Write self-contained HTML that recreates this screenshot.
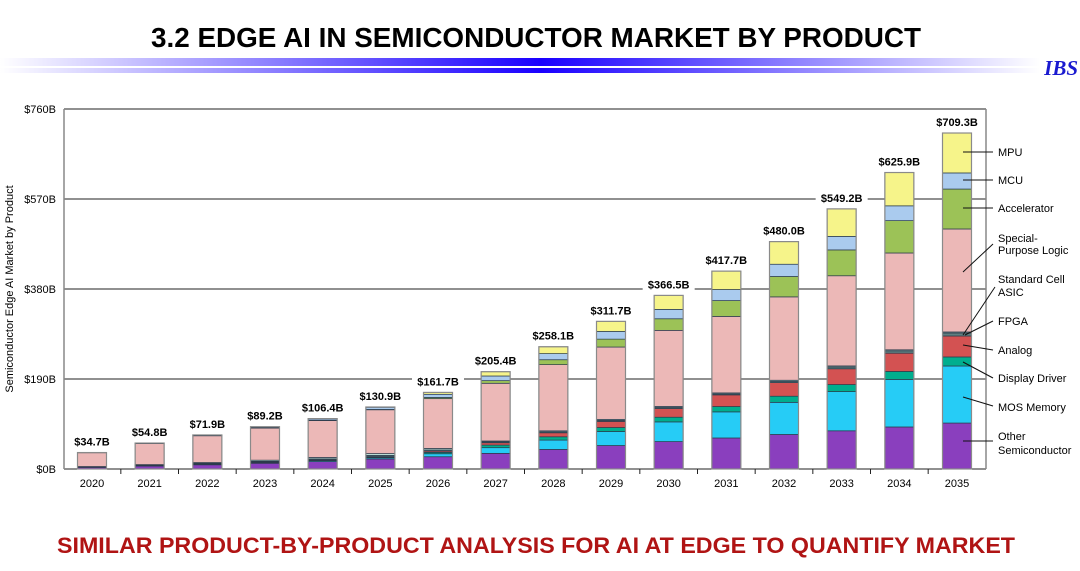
<!DOCTYPE html>
<html><head><meta charset="utf-8"><style>
body{margin:0;background:#fff;width:1080px;height:566px;overflow:hidden;font-family:"Liberation Sans",Arial,sans-serif}
</style></head><body>
<svg id="s" width="1080" height="566" xmlns="http://www.w3.org/2000/svg" font-family="Liberation Sans, Arial, sans-serif">
<defs>
<linearGradient id="g" x1="0" x2="1" y1="0" y2="0">
<stop offset="0" stop-color="#fff"/><stop offset="0.52" stop-color="#1a00ff"/><stop offset="1" stop-color="#fff"/>
</linearGradient>
</defs>
<text x="536" y="47" text-anchor="middle" font-size="28" font-weight="bold" textLength="770" lengthAdjust="spacingAndGlyphs">3.2  EDGE AI IN SEMICONDUCTOR MARKET BY PRODUCT</text>
<rect x="0" y="58" width="1040" height="8" fill="url(#g)"/>
<rect x="0" y="68" width="1040" height="5" fill="url(#g)"/>
<text x="1078" y="75" text-anchor="end" font-family="Liberation Serif, serif" font-style="italic" font-weight="bold" font-size="21" fill="#1a1ad0">IBS</text>
<g id="chart"></g>
<text x="536" y="553" text-anchor="middle" font-size="22" font-weight="bold" fill="#b01414" textLength="958" lengthAdjust="spacingAndGlyphs">SIMILAR PRODUCT-BY-PRODUCT ANALYSIS FOR AI AT EDGE TO QUANTIFY MARKET</text>
</svg>
<script>
var g=document.getElementById('chart'),h='';
var L=64,R=986,T=109,B=469,sc=360/760;
[[760,109],[570,199],[380,289],[190,379],[0,469]].forEach(function(a){
 h+='<line x1="'+L+'" x2="'+R+'" y1="'+a[1]+'" y2="'+a[1]+'" stroke="#222" stroke-width="1"/>';
 h+='<text x="56" y="'+(a[1]+4)+'" text-anchor="end" font-size="11">$'+a[0]+'B</text>';
});
h+='<line x1="'+L+'" x2="'+L+'" y1="'+T+'" y2="'+B+'" stroke="#888" stroke-width="1.5"/>';
h+='<line x1="'+R+'" x2="'+R+'" y1="'+T+'" y2="'+B+'" stroke="#888" stroke-width="1.5"/>';
h+='<text transform="translate(13,289) rotate(-90)" text-anchor="middle" font-size="11">Semiconductor Edge AI Market by Product</text>';
var tot=[34.7,54.8,71.9,89.2,106.4,130.9,161.7,205.4,258.1,311.7,366.5,417.7,480.0,549.2,625.9,709.3];
var cols=['#8a3fbe','#26ccf6','#00ae8e','#d35252','#5f7f80','#b8dcd4','#ecb8b7','#9cc257','#aacbee','#f6f48a'];
var key={2020:[.10,.01,.005,.005,.01,.02,.84,.005,0,.005],2025:[.16,.02,.01,.01,.02,.03,.71,.005,.035,.005],2027:[.161,.058,.027,.024,.009,.009,.593,.027,.048,.044],2031:[.157,.132,.027,.059,.005,.005,.387,.08,.056,.093],2035:[.137,.17,.027,.0625,.009,.003,.307,.119,.048,.119]};
var ks=[2020,2025,2027,2031,2035];
function fr(y){for(var i=0;i<ks.length-1;i++){if(y>=ks[i]&&y<=ks[i+1]){var t=(y-ks[i])/(ks[i+1]-ks[i]);return key[ks[i]].map(function(v,j){return v+(key[ks[i+1]][j]-v)*t;});}}}
var sp=(957-92)/15,bw=29;
for(var i=0;i<16;i++){
 var yr=2020+i,cx=92+i*sp,x=cx-bw/2,H=tot[i]*sc,f=fr(yr),s=f.reduce(function(a,b){return a+b},0),y=B;
 for(var j=0;j<10;j++){var hh=H*f[j]/s;y-=hh;h+='<rect x="'+x+'" y="'+y+'" width="'+bw+'" height="'+hh+'" fill="'+cols[j]+'" stroke="#2b3b4b" stroke-width="0.7"/>';}
 h+='<rect x="'+x+'" y="'+(B-H)+'" width="'+bw+'" height="'+H+'" fill="none" stroke="#8a8a8a" stroke-width="1.2"/>';
 var lab='$'+tot[i].toFixed(1)+'B',ly=B-H-7;
 h+='<rect x="'+(cx-26)+'" y="'+(ly-10)+'" width="52" height="13" fill="#fff"/>';
 h+='<text x="'+cx+'" y="'+ly+'" text-anchor="middle" font-size="11" font-weight="bold">'+lab+'</text>';
 h+='<text x="'+cx+'" y="487" text-anchor="middle" font-size="11">'+yr+'</text>';
 if(i>0){var tx=cx-sp/2;h+='<line x1="'+tx+'" x2="'+tx+'" y1="469" y2="474" stroke="#222"/>';}
}
var leg=[['MPU',[152],[963,152,993,152]],['MCU',[180],[963,180,993,180]],['Accelerator',[208],[963,208,993,208]],['Special-|Purpose Logic',[238,250],[963,272,993,244]],['Standard Cell|ASIC',[279,292],[963,335,995,287]],['FPGA',[321],[965,335,993,321]],['Analog',[350],[963,345,993,350]],['Display Driver',[378],[963,362,993,378]],['MOS Memory',[407],[963,397,993,406]],['Other|Semiconductor',[436,450],[963,441,993,441]]];
leg.forEach(function(l){var p=l[0].split('|');p.forEach(function(t,k){h+='<text x="998" y="'+(l[1][k]+4)+'" font-size="11">'+t+'</text>';});var c=l[2];h+='<line x1="'+c[0]+'" y1="'+c[1]+'" x2="'+c[2]+'" y2="'+c[3]+'" stroke="#111" stroke-width="1"/>';});
g.innerHTML=h;
</script>
</body></html>
